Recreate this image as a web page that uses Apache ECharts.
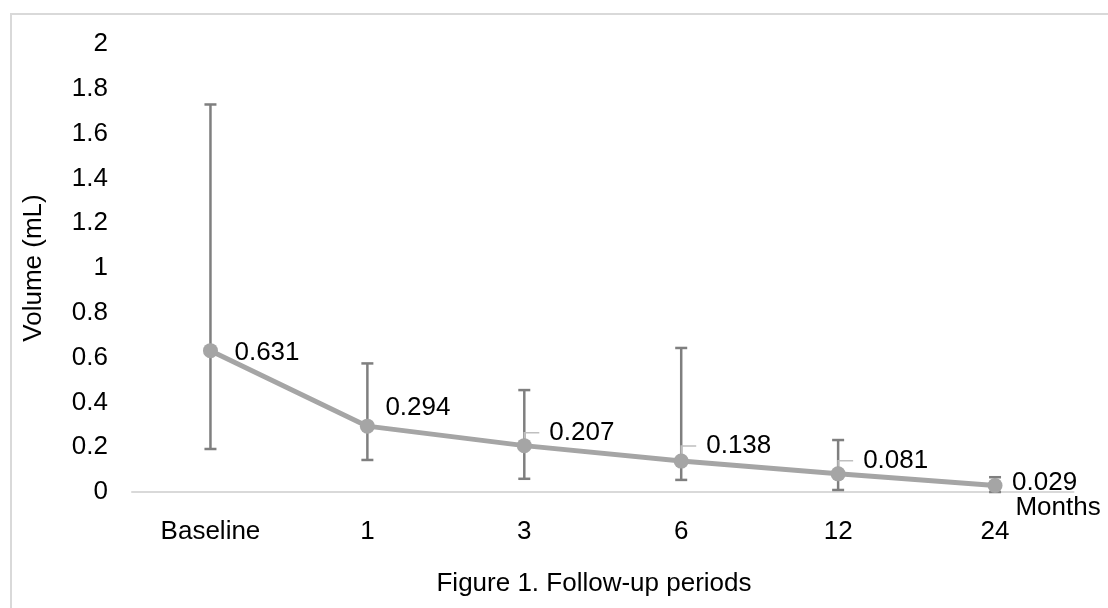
<!DOCTYPE html>
<html>
<head>
<meta charset="utf-8">
<script src="https://cdn.jsdelivr.net/npm/echarts@6/dist/echarts.min.js"></script>
<style>
  html, body { margin: 0; padding: 0; background: #fff; }
  #chart { width: 1108px; height: 608px; }
</style>
</head>
<body>
<div id="chart"></div>
<script>
// data
const periods = ['Baseline', '1', '3', '6', '12', '24']
const meanVolume = [0.631, 0.294, 0.207, 0.138, 0.081, 0.029]
const errHigh = [1.73, 0.574, 0.455, 0.643, 0.232, 0.066]
const errLow = [0.192, 0.143, 0.059, 0.054, 0.009, 0]
const yTicks = [0, 0.2, 0.4, 0.6, 0.8, 1, 1.2, 1.4, 1.6, 1.8, 2]

// label placement (px offsets from each point)
const labelDx = [24, 18, 25, 25, 25, 17]
const labelDy = [2, -18, -13, -15, -13, -3]
const showLeader = [false, false, true, true, true, false]

const font = 'Liberation Sans, Arial, sans-serif'
const fs = 26
const myChart = echarts.init(document.getElementById('chart'))

const option = {
  animation: false,
  textStyle: { fontFamily: font },
  graphic: [
    {
      type: 'rect',
      shape: { x: 11, y: 14, width: 1120, height: 620 },
      style: { fill: 'none', stroke: '#d9d9d9', lineWidth: 2 },
      silent: true,
    },
  ],
  title: {
    text: 'Figure 1. Follow-up periods',
    left: 589,
    top: 566,
    textAlign: 'center',
    textStyle: { fontFamily: font, fontSize: fs, fontWeight: 'normal', color: '#000' },
  },
  grid: { left: 132, right: 34.5, top: 44, bottom: 116 },
  xAxis: {
    type: 'category',
    data: periods,
    boundaryGap: true,
    name: 'Months',
    nameLocation: 'end',
    nameGap: -60,
    nameTextStyle: { fontFamily: font, fontSize: fs, color: '#000', align: 'left', verticalAlign: 'top', padding: [3, 0, 0, 0] },
    axisLine: { lineStyle: { color: '#d9d9d9', width: 2 } },
    axisTick: { show: false },
    axisLabel: { fontFamily: font, fontSize: fs, color: '#000', margin: 27 },
  },
  yAxis: {
    type: 'value',
    min: 0,
    max: 2,
    interval: 0.2,
    name: 'Volume (mL)',
    nameLocation: 'middle',
    nameGap: 85,
    nameTextStyle: { fontFamily: font, fontSize: fs, color: '#000' },
    axisLine: { show: false },
    axisTick: { show: false },
    splitLine: { show: false },
    axisLabel: {
      fontFamily: font, fontSize: fs, color: '#000', margin: 24,
      formatter: (v) => (yTicks.includes(+v.toFixed(1)) ? String(+v.toFixed(1)) : ''),
    },
  },
  series: [
    {
      name: 'error',
      type: 'custom',
      data: periods.map((p, i) => [i, errLow[i], errHigh[i], meanVolume[i]]),
      renderItem: function (params, api) {
        const i = params.dataIndex
        const x = api.value(0)
        const lo = api.coord([x, api.value(1)])
        const hi = api.coord([x, api.value(2)])
        const pt = api.coord([x, api.value(3)])
        const cap = 6
        const st = { stroke: '#7f7f7f', lineWidth: 2.5 }
        const children = [
          { type: 'line', shape: { x1: hi[0], y1: hi[1], x2: lo[0], y2: lo[1] }, style: st },
          { type: 'line', shape: { x1: hi[0] - cap, y1: hi[1], x2: hi[0] + cap, y2: hi[1] }, style: st },
          { type: 'line', shape: { x1: lo[0] - cap, y1: lo[1], x2: lo[0] + cap, y2: lo[1] }, style: st },
        ]
        if (showLeader[i]) {
          const ly = pt[1] + labelDy[i]
          children.push({
            type: 'polyline',
            shape: { points: [[pt[0], pt[1] - 7], [pt[0], ly], [pt[0] + 15, ly]] },
            style: { stroke: '#bfbfbf', lineWidth: 1.5, fill: 'none' },
            z2: 5,
          })
        }
        return { type: 'group', children: children }
      },
      z: 1,
    },
    {
      name: 'Volume',
      type: 'line',
      data: meanVolume,
      symbol: 'circle',
      symbolSize: 15,
      itemStyle: { color: '#a5a5a5' },
      lineStyle: { color: '#a5a5a5', width: 5 },
      label: {
        show: true,
        position: 'inside',
        align: 'left',
        verticalAlign: 'middle',
        fontFamily: font,
        fontSize: fs,
        color: '#000',
      },
      labelLayout: function (params) {
        const i = params.dataIndex
        return { dx: labelDx[i], dy: labelDy[i] }
      },
      z: 2,
    },
  ],
}

myChart.setOption(option)
</script>
</body>
</html>
